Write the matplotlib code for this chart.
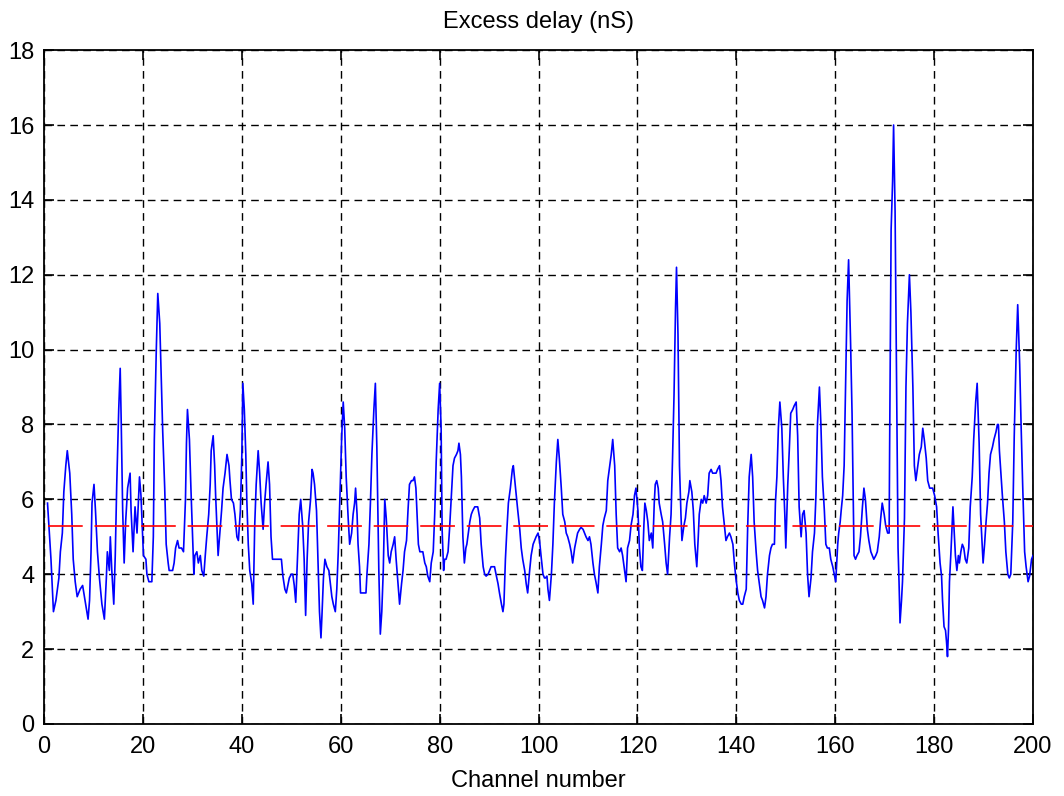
import matplotlib
matplotlib.use("Agg")
import matplotlib.pyplot as plt

plt.rcParams['font.family'] = ['Liberation Sans', 'DejaVu Sans']
plt.rcParams['lines.scale_dashes'] = False

# channel index (x) and excess delay in nS (y)
channel = [
    0.7, 1.4, 1.9, 2.4, 3.0, 3.3, 3.7, 4.0, 4.4, 4.7, 5.2, 5.6, 5.9, 6.3, 6.7, 7.3, 7.8, 8.4, 8.9, 9.2,
    9.5, 9.7, 10.1, 10.4, 10.8, 11.2, 11.7, 12.2, 12.6, 12.8, 13.2, 13.4, 13.7, 14.1, 14.4, 14.7, 15.1,
    15.4, 15.6, 15.9, 16.2, 16.5, 16.9, 17.4, 17.6, 18.0, 18.4, 18.8, 19.3, 19.6, 20.1, 20.6,
    20.8, 21.2, 21.8, 22.1, 22.3, 22.7, 23.0, 23.4, 23.7, 24.0, 24.4, 24.7, 25.1, 25.3, 26.0, 26.3,
    26.6, 27.0, 27.3, 27.8, 28.2, 28.6, 28.8, 29.0, 29.4, 29.7, 30.1, 30.3, 30.5, 30.9, 31.2, 31.6,
    31.9, 32.3, 32.6, 32.9, 33.3, 33.6, 33.8, 34.2, 34.5, 34.7, 35.0, 35.2, 35.5, 35.9, 36.2, 36.6,
    37.0, 37.4, 37.6, 37.9, 38.3, 38.6, 39.0, 39.3, 39.7, 40.0, 40.2, 40.5, 40.8,
    41.0, 41.3, 41.6, 42.0, 42.3, 42.6, 42.9, 43.3, 43.6, 43.9, 44.3, 44.6, 44.9, 45.3, 45.6, 45.9,
    46.2, 46.9, 47.5, 48.0, 48.3, 48.7, 49.0, 49.3, 49.6, 50.0, 50.3, 50.6, 50.9, 51.3, 51.6, 51.9,
    52.3, 52.6, 52.9, 53.2, 53.5, 53.9, 54.2, 54.4, 54.7, 55.1, 55.4, 55.7, 56.0, 56.2, 56.5, 56.8,
    57.2, 57.6, 57.9, 58.2, 58.5, 58.9, 59.2, 59.5, 59.8, 60.2, 60.5,
    60.8, 61.1, 61.5, 61.8, 62.2, 62.5, 62.8, 63.0, 63.3, 63.5, 63.8, 64.0, 64.5, 65.1, 65.3, 65.7,
    66.0, 66.3, 66.7, 67.0, 67.3, 67.7, 68.0, 68.3, 68.6, 68.9, 69.2, 69.6, 69.9, 70.2, 70.6, 70.9,
    71.2, 71.6, 71.9, 72.3, 72.6, 72.9, 73.3, 73.6, 73.9, 74.3, 74.6, 74.9, 75.2, 75.4, 75.7, 76.0,
    76.3, 76.6, 77.0, 77.3, 77.6, 78.0, 78.3, 78.7, 79.0, 79.3, 79.7, 80.0, 80.3,
    80.5, 80.8, 81.0, 81.3, 81.7, 82.0, 82.4, 82.7, 83.0, 83.4, 83.7, 83.9, 84.2, 84.4, 84.7, 85.0,
    85.3, 85.5, 85.8, 86.1, 86.4, 86.7, 87.1, 87.4, 87.7, 88.1, 88.4, 88.8, 89.1, 89.4, 89.8, 90.1,
    90.4, 90.8, 91.1, 91.4, 91.8, 92.1, 92.5, 92.8, 93.0, 93.3, 93.6, 93.9, 94.3, 94.7, 94.9, 95.2,
    95.5, 95.8, 96.2, 96.5, 96.8, 97.2, 97.5, 97.8, 98.2, 98.5, 98.9, 99.2, 99.5, 99.9, 100.2, 100.5,
    100.9, 101.2,
    101.4, 101.7, 101.9, 102.2, 102.6, 102.9, 103.2, 103.6, 103.9, 104.2, 104.6, 104.9, 105.3, 105.6,
    105.9, 106.3, 106.6, 106.9, 107.3, 107.6, 107.9, 108.3, 108.6, 109.0, 109.3, 109.6, 110.0, 110.3,
    110.6, 111.0, 111.3, 111.6, 112.0, 112.3, 112.7, 113.0, 113.3, 113.7, 114.0, 114.3, 114.7, 115.0,
    115.4, 115.7, 116.0, 116.4, 116.7, 117.0, 117.4, 117.7, 118.0, 118.4, 118.7, 119.1, 119.4, 119.7,
    120.1,
    120.4, 120.7, 121.0, 121.3, 121.5, 121.8, 122.1, 122.4, 122.8, 123.1, 123.4, 123.6, 123.9, 124.2,
    124.4, 124.8, 125.1, 125.5, 125.8, 126.1, 126.5, 126.8, 127.1, 127.4, 127.7, 127.9, 128.2, 128.5,
    128.8, 129.0, 129.4, 129.7, 130.0, 130.4, 130.6, 131.0, 131.3, 131.6, 132.0, 132.3, 132.5, 132.9,
    133.2, 133.5, 133.9, 134.2, 134.5, 134.9, 135.2, 135.6, 135.9, 136.2, 136.6, 136.9, 137.2, 137.6,
    137.9, 138.2, 138.6, 138.9, 139.3, 139.6, 139.9, 140.3, 140.6, 141.0, 141.3,
    141.6, 142.0, 142.3, 142.6, 143.0, 143.3, 143.6, 144.0, 144.3, 144.6, 145.0, 145.3, 145.7, 146.0,
    146.3, 146.7, 147.0, 147.3, 147.7, 147.9, 148.2, 148.5, 148.8, 149.2, 149.5, 149.8, 150.0, 150.4,
    150.7, 151.0, 151.4, 151.7, 152.1, 152.4, 152.7, 153.1, 153.4, 153.7, 154.1, 154.4, 154.7, 155.1,
    155.4, 155.8, 156.1, 156.4, 156.8, 157.1, 157.4, 157.8, 158.1, 158.4, 158.8, 159.1, 159.5, 159.8,
    160.1, 160.5,
    160.7, 161.0, 161.2, 161.5, 161.8, 162.1, 162.4, 162.7, 163.1, 163.4, 163.8, 164.1, 164.4, 164.8,
    165.1, 165.5, 165.8, 166.1, 166.5, 166.8, 167.2, 167.5, 167.8, 168.2, 168.5, 168.9, 169.2, 169.5,
    169.9, 170.2, 170.6, 170.9, 171.0, 171.3, 171.6, 171.8, 172.1, 172.4, 172.7, 172.9, 173.1, 173.4,
    173.6, 174.0, 174.3, 174.6, 175.0, 175.3, 175.7, 176.0, 176.3, 176.7, 177.0, 177.4, 177.7, 178.0,
    178.4, 178.7, 179.1, 179.4, 179.7, 180.1,
    180.5, 180.8, 181.2, 181.5, 181.7, 182.0, 182.3, 182.5, 182.7, 182.9, 183.1, 183.4, 183.6, 183.8,
    184.0, 184.3, 184.6, 184.9, 185.1, 185.4, 185.7, 186.0, 186.3, 186.6, 187.0, 187.3, 187.7, 188.0,
    188.4, 188.7, 188.9, 189.1, 189.4, 189.7, 189.9, 190.2, 190.5, 190.8, 191.1, 191.4, 191.8, 192.1,
    192.5, 192.8, 193.0, 193.2, 193.5, 193.8, 194.2, 194.5, 194.9, 195.2, 195.5, 195.9, 196.2, 196.6,
    196.9, 197.3, 197.6, 197.9, 198.3, 198.6, 199.0, 199.3, 199.7, 200.0,
]

delay = [
    5.9, 4.4, 3.0, 3.3, 3.9, 4.6, 5.1, 6.2, 6.9, 7.3, 6.7, 5.6, 4.4, 3.8, 3.4, 3.6, 3.7, 3.2, 2.8, 3.3,
    4.6, 5.9, 6.4, 5.7, 4.6, 3.9, 3.2, 2.8, 3.9, 4.6, 4.1, 5.0, 4.1, 3.2, 4.5, 6.4, 8.4,
    9.5, 8.1, 5.7, 4.3, 5.4, 6.3, 6.7, 5.7, 4.6, 5.8, 5.1, 6.6, 6.1, 4.5, 4.4,
    4.0, 3.8, 3.8, 5.0, 7.6, 10.0, 11.5, 10.7, 9.3, 7.8, 6.3, 4.8, 4.3, 4.1, 4.1, 4.3,
    4.7, 4.9, 4.7, 4.7, 4.6, 6.0, 7.5, 8.4, 7.6, 6.3, 4.8, 4.0, 4.5, 4.6, 4.3, 4.5,
    4.1, 3.95, 4.5, 5.0, 5.6, 6.4, 7.3, 7.7, 6.9, 6.1, 5.1, 4.5, 5.0, 5.7, 6.3, 6.7,
    7.2, 6.9, 6.5, 6.0, 5.9, 5.6, 5.0, 4.9, 5.7, 7.2, 9.1, 8.4, 7.2,
    6.0, 4.8, 4.1, 3.75, 3.2, 5.3, 6.4, 7.3, 6.7, 5.9, 5.2, 5.9, 6.4, 7.0, 6.4, 5.0,
    4.4, 4.4, 4.4, 4.4, 3.95, 3.6, 3.5, 3.7, 3.9, 4.0, 4.0, 3.7, 3.25, 4.6, 5.6, 6.0,
    5.3, 4.4, 2.9, 4.4, 5.4, 6.0, 6.8, 6.7, 6.4, 5.7, 4.3, 3.0, 2.3, 2.9, 3.9, 4.4,
    4.2, 4.1, 3.75, 3.4, 3.2, 3.0, 3.6, 4.6, 5.9, 7.7, 8.6,
    7.9, 6.6, 5.5, 4.8, 5.1, 5.6, 5.9, 6.3, 5.6, 4.8, 4.2, 3.5, 3.5, 3.5, 4.0, 4.8,
    5.9, 7.2, 8.4, 9.1, 7.4, 4.1, 2.4, 3.0, 4.1, 6.0, 5.5, 4.5, 4.3, 4.6, 4.8, 5.0,
    4.4, 3.7, 3.2, 3.75, 4.1, 4.6, 4.9, 5.7, 6.4, 6.5, 6.5, 6.6, 6.3, 5.7, 4.8, 4.6,
    4.6, 4.6, 4.3, 4.2, 3.95, 3.8, 4.3, 4.6, 5.6, 7.0, 8.4, 9.1, 7.9,
    5.2, 4.1, 4.4, 4.4, 4.6, 5.2, 6.2, 6.9, 7.1, 7.2, 7.3, 7.5, 7.2, 6.6, 5.0, 4.3,
    4.7, 4.8, 5.1, 5.4, 5.6, 5.7, 5.8, 5.8, 5.8, 5.5, 4.8, 4.2, 4.0, 3.95, 4.0, 4.1,
    4.2, 4.2, 4.2, 4.0, 3.75, 3.5, 3.2, 3.0, 3.2, 4.4, 5.2, 5.9, 6.3, 6.8, 6.9, 6.5,
    6.1, 5.7, 5.2, 4.7, 4.4, 4.1, 3.75, 3.5, 4.1, 4.5, 4.8, 4.9, 5.0, 5.1, 4.9, 4.5,
    4.0, 3.9,
    3.9, 3.95, 3.6, 3.3, 4.0, 4.8, 5.9, 7.0, 7.6, 7.1, 6.3, 5.6, 5.4, 5.1,
    5.0, 4.8, 4.6, 4.3, 4.7, 4.9, 5.1, 5.2, 5.25, 5.2, 5.1, 5.0, 4.9, 5.0,
    4.8, 4.3, 4.0, 3.8, 3.5, 4.2, 4.8, 5.3, 5.5, 5.7, 6.5, 6.8, 7.2, 7.6,
    6.9, 5.6, 4.7, 4.6, 4.7, 4.5, 4.1, 3.8, 4.7, 4.9, 5.3, 5.6, 6.1, 6.3,
    5.7,
    4.7, 4.2, 4.1, 5.3, 5.9, 5.7, 5.4, 4.9, 5.1, 4.7, 5.9, 6.4, 6.5, 6.3,
    5.9, 5.6, 5.4, 4.8, 4.3, 4.0, 5.0, 5.6, 7.1, 8.8, 11.1, 12.2, 10.4, 6.9,
    5.6, 4.9, 5.3, 5.5, 5.9, 6.2, 6.5, 6.2, 5.7, 4.8, 4.2, 5.0, 5.6, 6.0,
    5.9, 6.1, 5.9, 6.1, 6.7, 6.8, 6.7, 6.7, 6.7, 6.8, 6.9, 6.5, 5.8, 5.3,
    4.9, 5.0, 5.1, 5.0, 4.8, 4.3, 3.9, 3.5, 3.3, 3.2, 3.2,
    3.4, 3.6, 5.3, 6.6, 7.2, 6.6, 5.4, 4.6, 4.1, 3.8, 3.4, 3.3, 3.1, 3.4,
    4.0, 4.5, 4.7, 4.8, 4.8, 5.9, 6.6, 7.9, 8.6, 7.9, 6.6, 5.6, 4.7, 6.4,
    7.3, 8.3, 8.4, 8.5, 8.6, 7.7, 5.8, 5.0, 5.6, 5.7, 5.1, 4.0, 3.4, 3.9,
    4.6, 5.1, 6.1, 8.0, 9.0, 8.0, 6.6, 5.7, 4.8, 4.7, 4.7, 4.4, 4.2, 4.0,
    3.8, 4.8,
    5.1, 5.4, 5.7, 6.1, 6.9, 9.1, 11.3, 12.4, 10.2, 8.3, 4.5, 4.4, 4.5, 4.6,
    5.0, 5.8, 6.3, 6.0, 5.2, 4.9, 4.6, 4.5, 4.4, 4.5, 4.6, 5.0, 5.5, 5.9,
    5.6, 5.3, 5.1, 5.1, 7.4, 13.2, 14.5, 16.0, 13.7, 9.2, 4.7, 3.8, 2.7, 3.3,
    3.8, 5.5, 9.0, 10.7, 12.0, 11.0, 9.0, 6.9, 6.5, 6.9, 7.2, 7.4, 7.9, 7.6,
    7.1, 6.5, 6.3, 6.3, 6.3, 6.1,
    5.8, 5.1, 4.3, 3.95, 3.3, 2.6, 2.5, 2.2, 1.8, 2.5, 3.8, 4.6, 5.2, 5.8,
    5.3, 4.5, 4.1, 4.5, 4.3, 4.6, 4.8, 4.7, 4.4, 4.3, 4.7, 5.8, 6.6, 7.6,
    8.6, 9.1, 8.3, 7.5, 5.6, 4.8, 4.3, 4.8, 5.4, 5.9, 6.7, 7.2, 7.4, 7.6,
    7.8, 8.0, 8.0, 7.3, 6.7, 6.1, 5.4, 4.6, 4.0, 3.9, 4.0, 5.4, 7.7, 10.0,
    11.2, 9.6, 7.9, 6.4, 4.6, 4.2, 3.8, 3.95, 4.4, 4.5,
]

mean_delay = 5.3
x_ticks = [0, 20, 40, 60, 80, 100, 120, 140, 160, 180, 200]
y_ticks = [0, 2, 4, 6, 8, 10, 12, 14, 16, 18]

fig = plt.figure(figsize=(10.64, 7.96), dpi=100)
ax = fig.add_axes([0.0414, 0.0905, 0.9295, 0.8465])

ax.plot(channel, delay, color='#0000ff', lw=1.2, zorder=3)
ax.plot([channel[0], channel[-1]], [mean_delay, mean_delay], color='#ff0000',
        lw=1.2, dashes=(25, 8.5), zorder=4)

ax.set_xlim(0, 200)
ax.set_ylim(0, 18)
ax.set_xticks(x_ticks)
ax.set_yticks(y_ticks)

# MATLAB style box, inward ticks all round, dashed black grid
ax.grid(True, color='black', lw=1.0, linestyle=(0, (5.5, 3.8)))
ax.tick_params(direction='in', top=True, right=True, length=7, width=1.2,
               labelsize=17, pad=7)
ax.tick_params(axis='x', pad=9)
for s in ax.spines.values():
    s.set_linewidth(1.3)

ax.set_title("Excess delay (nS)", fontsize=17, pad=16)
ax.set_xlabel("Channel number", fontsize=17, labelpad=8)

fig.savefig("out.png", dpi=100)
